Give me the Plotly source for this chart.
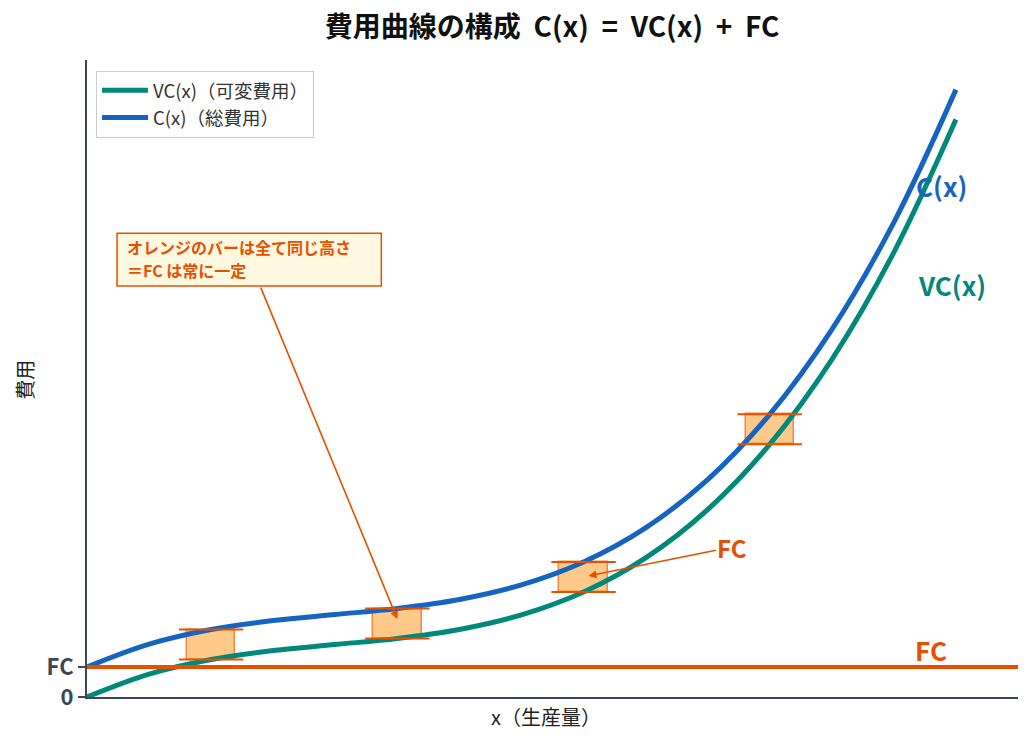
import plotly.graph_objects as go

# ---- data ----
x_vals = [0, 0.5, 1, 1.5, 2, 2.5, 3, 3.5, 4, 4.5, 5, 5.5, 6, 6.5, 7]
vc_vals = [0, 6.1, 10, 12.4, 14, 15.6, 18, 21.9, 28, 37.1, 50, 67.4, 90, 118.6, 154]
FC = 8
c_vals = [v + FC for v in vc_vals]
bar_x = [1, 2.5, 4, 5.5]
bar_base = [vc_vals[x_vals.index(b)] for b in bar_x]
bar_h = [FC for _ in bar_x]
bar_top = [b + h for b, h in zip(bar_base, bar_h)]
y_tick_vals = [0, FC]
y_tick_text = ["0", "FC"]
note_lines = ["<b>オレンジのバーは全て同じ高さ</b>", "<b>＝FC は常に一定</b>"]

GREEN = "#00897B"
BLUE = "#1565C0"
ORANGE = "#E65100"
FONT = "Noto Sans CJK JP"
AXC = "#3D4655"

fig = go.Figure()

fig.add_trace(go.Bar(
    x=bar_x, y=bar_h, base=bar_base, width=0.39,
    marker=dict(color="#FFC98A", line=dict(color="#F08A45", width=1.5)),
    showlegend=False, hoverinfo="skip"))

fig.add_trace(go.Scatter(
    x=x_vals, y=vc_vals, mode="lines", name="VC(x)（可変費用）",
    line=dict(color=GREEN, width=5, shape="spline"), cliponaxis=False))
fig.add_trace(go.Scatter(
    x=x_vals, y=c_vals, mode="lines", name="C(x)（総費用）",
    line=dict(color=BLUE, width=5, shape="spline"), cliponaxis=False))

fig.add_shape(type="line", xref="paper", x0=0, x1=1, yref="y", y0=FC, y1=FC,
              line=dict(color=ORANGE, width=4), layer="above")

# note box
fig.add_shape(type="rect", xref="x", yref="y", x0=0.242, x1=2.371, y0=109.6, y1=123.7,
              fillcolor="#FFF8E1", line=dict(color=ORANGE, width=1.5), layer="above")

fig.add_trace(go.Scatter(
    x=bar_x + bar_x, y=bar_base + bar_top, mode="markers",
    marker=dict(symbol="line-ew", size=46, line=dict(color=ORANGE, width=2)),
    showlegend=False, hoverinfo="skip"))

annotations = [
    dict(text="", x=2.5, y=20.8, xref="x", yref="y", ax=1.395, ay=109.6,
         axref="x", ayref="y", showarrow=True, arrowhead=2, arrowsize=1,
         arrowwidth=1.6, arrowcolor=ORANGE),
    dict(text=note_lines[0], x=0.31, y=120.0, xref="x", yref="y", showarrow=False,
         xanchor="left", yanchor="middle",
         font=dict(family=FONT, size=16, color=ORANGE)),
    dict(text=note_lines[1], x=0.31, y=113.9, xref="x", yref="y", showarrow=False,
         xanchor="left", yanchor="middle",
         font=dict(family=FONT, size=16, color=ORANGE)),
    dict(text="<b>FC</b>", x=4.04, y=32.3, xref="x", yref="y", ax=5.2, ay=40,
         axref="x", ayref="y", showarrow=True, arrowhead=2, arrowsize=1,
         arrowwidth=1.6, arrowcolor=ORANGE,
         font=dict(family=FONT, size=24, color=ORANGE)),
    dict(text="<b>C(x)</b>", x=6.88, y=136.5, xref="x", yref="y", showarrow=False,
         font=dict(family=FONT, size=26, color=BLUE)),
    dict(text="<b>VC(x)</b>", x=6.97, y=109.9, xref="x", yref="y", showarrow=False,
         font=dict(family=FONT, size=26, color=GREEN)),
    dict(text="<b>FC</b>", x=6.8, y=12.8, xref="x", yref="y", showarrow=False,
         font=dict(family=FONT, size=26, color=ORANGE)),
    dict(text="費用", x=-0.0666, y=0.498, xref="paper", yref="paper", showarrow=False,
         xanchor="center", yanchor="middle",
         textangle=-90, font=dict(family=FONT, size=20, color="#222")),
    dict(text="x（生産量）", x=0.493, y=-0.031, xref="paper", yref="paper", showarrow=False,
         xanchor="center", yanchor="middle",
         font=dict(family=FONT, size=20, color="#222")),
]

fig.update_layout(
    width=1032, height=743,
    margin=dict(l=87, r=14, t=60, b=46),
    paper_bgcolor="white", plot_bgcolor="white",
    title=dict(text="<b>費用曲線の構成 &nbsp;C(x)&nbsp; = &nbsp;VC(x)&nbsp; + &nbsp;FC</b>",
               x=0.535, xanchor="center", y=0.963, yanchor="middle",
               font=dict(family=FONT, size=28, color="#111")),
    font=dict(family=FONT),
    showlegend=True,
    legend=dict(x=0.0097, y=0.983, xanchor="left", yanchor="top",
                bgcolor="white", bordercolor="#CCCCCC", borderwidth=1,
                itemwidth=46, tracegroupgap=0,
                font=dict(family=FONT, size=18.5, color="#333")),
    annotations=annotations,
    bargap=0,
)
fig.update_xaxes(range=[0, 7.5], showgrid=False, zeroline=False, showticklabels=False,
                 showline=True, linecolor=AXC, linewidth=2, ticks="")
fig.update_yaxes(range=[0, 169.9], showgrid=False, zeroline=False, showline=True,
                 linecolor=AXC, linewidth=2, ticks="outside", ticklen=7, tickwidth=2,
                 tickcolor=AXC, tickvals=y_tick_vals, ticktext=y_tick_text,
                 tickfont=dict(family=FONT, size=22, color=AXC, weight="bold"))

fig.write_html("out.html")
